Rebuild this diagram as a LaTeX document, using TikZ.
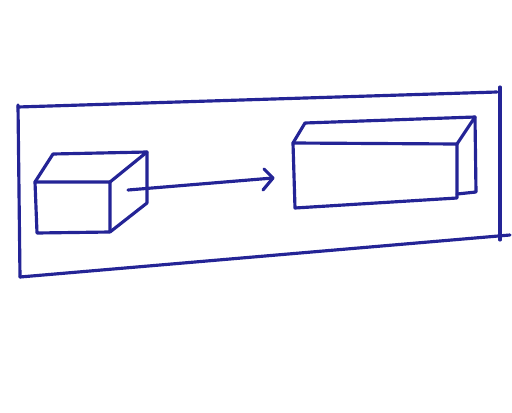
\documentclass[tikz,border=0pt]{standalone}
\usepackage{tikz}
\usetikzlibrary{arrows}

\definecolor{penblue}{RGB}{36,36,150}

\begin{document}
\begin{tikzpicture}[x=0.02cm, y=-0.02cm,
    pen/.style={draw=penblue, line width=1.8pt, line join=round, line cap=round}]

  \useasboundingbox[fill=white] (0,0) rectangle (512,413);

  % --- outer frame ---
  \draw[pen] (18,107) -- (497,92);
  \draw[pen] (500,87) -- (500,240);
  \draw[pen] (20,277) -- (510,235);
  \draw[pen] (18,105) -- (20,277);

  % --- small box (left) ---
  \coordinate (sftl) at (35,182);
  \coordinate (sftr) at (110,182);
  \coordinate (sfbr) at (110,232);
  \coordinate (sfbl) at (37,233);
  \coordinate (sbtl) at (53,154);
  \coordinate (sbtr) at (147,152);
  \coordinate (sbbr) at (147,203);
  \draw[pen] (sftl) -- (sftr) -- (sfbr) -- (sfbl) -- cycle;
  \draw[pen] (sftl) -- (sbtl) -- (sbtr) -- (sftr);
  \draw[pen] (sbtr) -- (sbbr) -- (sfbr);

  % --- big box (right) ---
  \coordinate (bftl) at (293,143);
  \coordinate (bftr) at (457,144);
  \coordinate (bfbr) at (457,198);
  \coordinate (bfbl) at (295,208);
  \coordinate (bbtl) at (305,123);
  \coordinate (bbtr) at (475,117);
  \coordinate (bbbr) at (476,192);
  \draw[pen] (bftl) -- (bftr) -- (bfbr) -- (bfbl) -- cycle;
  \draw[pen] (bftl) -- (bbtl) -- (bbtr) -- (bftr);
  \draw[pen] (bbtr) -- (bbbr) -- (457,194);

  % --- arrow between boxes ---
  \coordinate (astart) at (128,190);
  \coordinate (aend) at (273,178);
  \draw[pen] (astart) -- (aend);
  \draw[pen] (264,169) -- (aend) -- (263,190);

\end{tikzpicture}
\end{document}
